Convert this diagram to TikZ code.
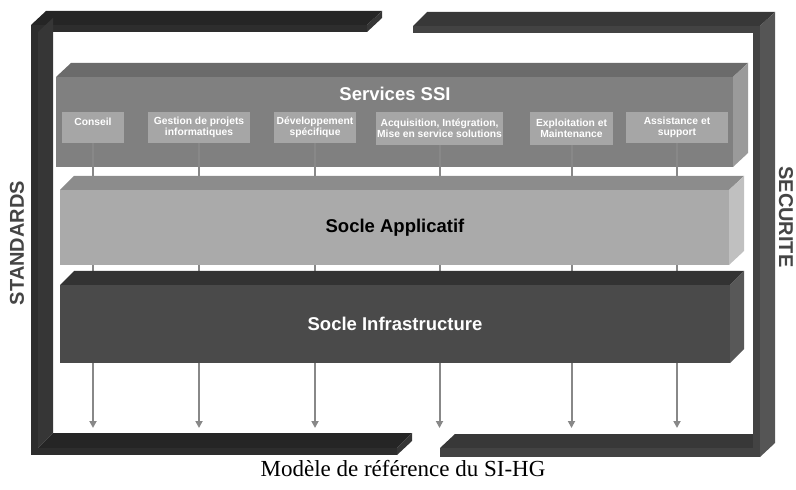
\documentclass[tikz,border=0pt]{standalone}
\usepackage{fontspec}
\setmainfont{Liberation Serif}
\setsansfont{Liberation Sans}
\usetikzlibrary{arrows.meta}

% bracket and layer shades
\definecolor{lbTop}{HTML}{252525}
\definecolor{lbFront}{HTML}{2D2D2D}
\definecolor{lbSide}{HTML}{363636}
\definecolor{rbTop}{HTML}{383838}
\definecolor{rbFront}{HTML}{434343}
\definecolor{rbSide}{HTML}{555555}
\definecolor{ssiTop}{HTML}{6B6B6B}
\definecolor{ssiFront}{HTML}{808080}
\definecolor{ssiSide}{HTML}{9A9A9A}
\definecolor{svcFill}{HTML}{A6A6A6}
\definecolor{appTop}{HTML}{8C8C8C}
\definecolor{appFront}{HTML}{AAAAAA}
\definecolor{appSide}{HTML}{C0C0C0}
\definecolor{infTop}{HTML}{333333}
\definecolor{infFront}{HTML}{4A4A4A}
\definecolor{infSide}{HTML}{585858}
\definecolor{linkGray}{HTML}{888888}
\definecolor{sideText}{HTML}{454545}

\tikzset{
  svc/.style={fill=svcFill,text=white,align=center,inner sep=0pt,minimum height=31bp,
    font=\sffamily\bfseries\fontsize{10.3bp}{11bp}\selectfont},
  layer/.style={font=\sffamily\bfseries\fontsize{18.5bp}{20bp}\selectfont},
  link/.style={linkGray,line width=2bp,-{Triangle[length=7bp,width=7bp]}},
  sidelabel/.style={text=sideText,font=\sffamily\bfseries\fontsize{20bp}{22bp}\selectfont}
}

\begin{document}
\begin{tikzpicture}[x=1bp,y=-1bp]
\useasboundingbox (0,0) rectangle (796,490);

% left bracket (standards)
\fill[lbTop] (31,25)--(367,25)--(382,11)--(46,11)--cycle;
\fill[lbSide] (367,25)--(382,11)--(382,18)--(367,32)--cycle;
\fill[lbFront] (31,25) rectangle (367,32);
\fill[lbSide] (38,32)--(53,18)--(53,433)--(38,448)--cycle;
\fill[lbFront] (31,25) rectangle (38,455);
\fill[lbTop] (38,448)--(53,433)--(412,433)--(397,448)--cycle;
\fill[lbSide] (397,448)--(412,433)--(412,441)--(397,455)--cycle;
\fill[lbFront] (31,448) rectangle (397,455);

% right bracket (securite)
\fill[rbTop] (413,26)--(760,26)--(775,12)--(427,12)--cycle;
\fill[rbFront] (413,26) rectangle (760,33);
\fill[rbTop] (440,448)--(455,434)--(768,434)--(753,448)--cycle;
\fill[rbFront] (440,448) rectangle (760,457);
\fill[rbFront] (753,26) rectangle (760,457);
\fill[rbSide] (760,26)--(775,12)--(775,443)--(760,457)--cycle;

% services layer
\fill[ssiTop] (56,77)--(71,63)--(748,63)--(733,77)--cycle;
\fill[ssiSide] (733,77)--(748,63)--(748,153)--(733,167)--cycle;
\fill[ssiFront] (56,77) rectangle (733,167);
\node[layer,text=white] (ssi) at (395,94) {Services SSI};

\node[svc,minimum width=62bp] (conseil) at (93,127.5) {Conseil\\~};
\node[svc,minimum width=102bp] (projets) at (199,127.5) {Gestion de projets\\informatiques};
\node[svc,minimum width=82bp] (devspec) at (315,127.5) {Développement\\spécifique};
\node[svc,minimum width=127bp,minimum height=33bp] (acquis) at (439.5,128.5) {Acquisition, Intégration,\\Mise en service solutions};
\node[svc,minimum width=83bp,minimum height=33bp] (exploit) at (571.5,128.5) {Exploitation et\\Maintenance};
\node[svc,minimum width=102bp] (assist) at (677,127.5) {Assistance et\\support};

% links down through the layers
\foreach \s in {conseil,projets,devspec,acquis,exploit,assist}{
  \coordinate (\s-end) at (\s.south |- 0,428);
  \draw[link] (\s.south) -- (\s-end);
}

% applicative layer
\fill[appTop] (60,190)--(74,176)--(744,176)--(729,190)--cycle;
\fill[appSide] (729,190)--(744,176)--(744,251)--(729,265)--cycle;
\fill[appFront] (60,190) rectangle (729,265);
\node[layer] (appli) at (395,228) {Socle Applicatif};

% infrastructure layer
\fill[infTop] (60,285)--(74,271)--(744,271)--(730,285)--cycle;
\fill[infSide] (730,285)--(744,271)--(744,349)--(730,363)--cycle;
\fill[infFront] (60,285) rectangle (730,363);
\node[layer,text=white] (infra) at (395,324) {Socle Infrastructure};

\node[sidelabel,rotate=90] (standards) at (17,243) {STANDARDS};
\node[sidelabel,rotate=-90] (securite) at (786,217) {SECURITE};

\node[font=\rmfamily\fontsize{23bp}{26bp}\selectfont] (caption) at (403,469) {Modèle de référence du SI-HG};
\end{tikzpicture}
\end{document}
